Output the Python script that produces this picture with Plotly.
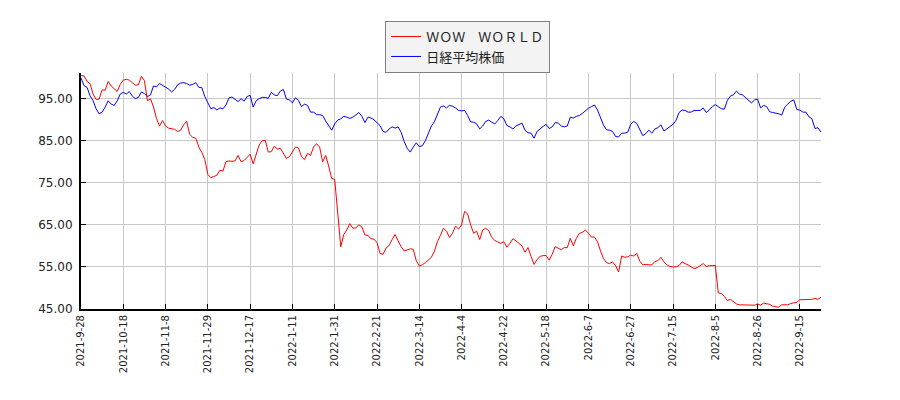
import pandas as pd
import plotly.graph_objects as go

# trading days (TSE) 2021-9-28 .. 2022-9-28
START = "2021-09-28"
END = "2022-09-28"
HOLIDAYS = ["2021-11-03", "2021-11-23", "2021-12-31", "2022-01-03", "2022-01-10",
            "2022-02-11", "2022-02-23", "2022-03-21", "2022-04-29", "2022-05-03",
            "2022-05-04", "2022-05-05", "2022-07-18", "2022-08-11", "2022-09-19",
            "2022-09-23"]

TICK_LABELS = ["2021-9-28", "2021-10-18", "2021-11-8", "2021-11-29", "2021-12-17",
               "2022-1-11", "2022-1-31", "2022-2-21", "2022-3-14", "2022-4-4",
               "2022-4-22", "2022-5-18", "2022-6-7", "2022-6-27", "2022-7-15",
               "2022-8-5", "2022-8-26", "2022-9-15"]

# ＷＯＷ　ＷＯＲＬＤ (relative, start = 100)
wow = [100.5, 100.4, 99.1, 98.6, 96.1, 94.8, 94.9, 97.1, 97.0, 99.1,
       98.0, 97.3, 96.7, 98.4, 99.4, 99.6, 99.4, 98.8, 98.2, 98.3,
       100.3, 99.3, 94.5, 95.0, 93.0, 90.3, 88.5, 89.8, 88.5, 88.0,
       87.8, 87.7, 87.2, 87.5, 88.8, 89.6, 86.5, 85.8, 85.6, 83.5,
       82.2, 80.5, 77.0, 76.2, 76.5, 76.8, 78.0, 77.8, 80.0, 80.2,
       80.1, 80.2, 81.5, 80.0, 80.3, 81.0, 81.8, 79.5, 82.0, 84.0,
       85.0, 85.1, 82.3, 82.4, 83.7, 83.0, 83.2, 82.1, 80.8, 81.2,
       82.2, 83.5, 83.3, 81.2, 80.5, 82.0, 81.5, 83.5, 84.3, 83.5,
       80.0, 81.5, 79.0, 76.0, 75.8, 68.0, 59.8, 62.7, 63.8, 65.3,
       64.2, 64.3, 65.0, 64.5, 62.6, 62.5, 61.7, 61.6, 60.8, 58.2,
       58.0, 59.5, 60.1, 61.5, 62.7, 61.2, 59.8, 58.8, 59.0, 59.3,
       59.2, 56.5, 55.2, 55.5, 56.0, 56.6, 57.3, 58.7, 61.0, 62.5,
       64.2, 63.5, 62.0, 63.0, 64.7, 64.0, 65.0, 68.2, 67.6, 65.0,
       63.0, 63.5, 61.5, 63.8, 64.2, 63.6, 62.0, 61.3, 60.9, 60.6,
       61.0, 59.7, 60.6, 61.7, 61.2, 60.6, 60.0, 58.5, 59.6, 57.5,
       55.6, 56.8, 57.5, 57.7, 57.7, 56.6, 58.0, 59.8, 59.5, 59.1,
       59.6, 59.6, 61.8, 60.0, 61.8, 63.0, 63.2, 63.8, 63.0, 62.1,
       62.1, 61.0, 58.8, 57.0, 56.0, 55.8, 56.2, 55.3, 53.8, 57.6,
       57.3, 57.4, 57.8, 57.6, 58.2, 56.4, 55.5, 55.6, 55.5, 55.5,
       56.3, 56.5, 57.3, 56.2, 55.5, 55.1, 55.0, 55.0, 55.3, 56.2,
       55.8, 55.5, 55.0, 54.6, 54.8, 55.3, 55.8, 55.1, 55.3, 55.3,
       55.4, 48.8, 48.7, 48.0, 47.0, 47.3, 46.8, 46.2, 46.0, 46.0,
       46.0, 46.0, 45.9, 45.9, 46.2, 45.9, 46.4, 46.2, 46.1, 45.7,
       45.5, 45.4, 46.0, 46.0, 46.0, 46.3, 46.4, 46.6, 47.2, 47.2,
       47.2, 47.2, 47.3, 47.5, 47.3, 47.8]

# 日経平均株価 (relative, start = 100)
nikkei = [99.9, 98.1, 97.7, 95.7, 94.5, 92.6, 91.4, 91.8, 93.0, 94.5,
          93.7, 93.4, 94.5, 96.1, 96.5, 96.1, 96.7, 95.6, 95.0, 95.3,
          96.6, 96.2, 95.5, 95.9, 98.0, 97.8, 98.6, 98.2, 97.7, 97.3,
          96.6, 97.2, 98.3, 98.7, 98.8, 98.6, 98.2, 98.4, 98.8, 97.7,
          97.6, 95.5, 94.0, 92.6, 92.9, 92.3, 92.8, 92.6, 93.5, 95.2,
          95.4, 94.9, 94.3, 95.0, 94.4, 95.5, 95.8, 93.0, 94.5, 95.0,
          95.3, 95.3, 95.1, 96.5, 95.9, 95.7, 96.8, 97.2, 94.9, 94.7,
          94.0, 95.2, 94.6, 93.1, 93.7, 93.4, 91.8, 91.8, 91.2, 91.2,
          91.0, 89.7, 88.5, 87.5, 89.0, 89.9, 90.2, 90.8, 90.6, 90.3,
          90.6, 91.2, 91.7, 90.8, 89.3, 90.6, 90.4, 90.0, 89.4, 88.6,
          87.2, 87.0, 87.8, 88.3, 88.0, 88.3, 87.0, 84.8, 83.2, 82.3,
          83.5, 84.5, 83.6, 83.8, 85.0, 86.6, 88.5, 89.5, 91.5, 93.0,
          93.3, 92.8, 93.4, 93.2, 92.8, 92.2, 92.1, 92.2, 91.0, 89.5,
          89.4, 89.0, 87.8, 88.5, 89.6, 89.9, 89.4, 89.0, 89.8, 90.8,
          90.2, 88.6, 88.3, 87.8, 88.5, 88.9, 89.2, 87.5, 86.9, 86.8,
          85.6, 87.2, 87.9, 88.4, 88.9, 87.9, 88.3, 89.3, 89.2, 88.5,
          88.3, 88.5, 90.6, 90.4, 90.8, 91.0, 91.5, 92.2, 92.7, 93.1,
          93.5, 92.3, 90.5, 88.7, 87.6, 87.5, 87.2, 86.0, 85.9, 86.8,
          86.8, 87.0, 88.9, 89.6, 89.1, 87.7, 86.2, 86.7, 87.5, 86.8,
          87.8, 88.1, 88.8, 87.3, 87.8, 88.3, 88.9, 89.8, 91.7, 92.3,
          92.2, 91.8, 91.8, 92.2, 92.2, 92.2, 92.8, 91.7, 92.3, 93.1,
          93.6, 93.1, 92.6, 92.5, 94.6, 95.6, 95.9, 96.8, 96.1, 95.9,
          95.3, 94.5, 94.0, 94.7, 94.9, 92.8, 93.4, 93.1, 91.9, 91.7,
          91.6, 91.4, 91.1, 93.0, 93.7, 94.4, 94.7, 92.4, 92.3, 91.8,
          91.8, 90.7, 90.2, 87.9, 88.1, 87.0]

days = pd.bdate_range(START, END, freq="C", holidays=HOLIDAYS)
dates = [f"{d.year}-{d.month}-{d.day}" for d in days]
if len(dates) != len(wow) or dates[::14] != TICK_LABELS:
    raise ValueError("date list does not match data")

fig = go.Figure()
fig.add_trace(go.Scatter(x=dates, y=wow, mode="lines", name="ＷＯＷ　ＷＯＲＬＤ",
                         line=dict(color="#ff0000", width=1)))
fig.add_trace(go.Scatter(x=dates, y=nikkei, mode="lines", name="日経平均株価",
                         line=dict(color="#0000ff", width=1)))

fig.update_xaxes(type="category", range=[0, len(dates) - 1], automargin=False,
                 tickmode="array", tickvals=TICK_LABELS, ticktext=TICK_LABELS,
                 tickangle=-90, showgrid=True, gridcolor="#c8c8c8", gridwidth=1,
                 showline=True, linecolor="black", linewidth=2,
                 ticks="inside", ticklen=5, tickcolor="black",
                 tickfont=dict(size=10, color="#222"), zeroline=False)
fig.update_yaxes(range=[45, 101.1], automargin=False, tickmode="array",
                 tickvals=[45, 55, 65, 75, 85, 95], tickformat=".2f",
                 showgrid=True, gridcolor="#c8c8c8", gridwidth=1,
                 showline=True, linecolor="black", linewidth=2,
                 ticks="inside", ticklen=5, tickcolor="black",
                 ticklabelstandoff=4,
                 tickfont=dict(size=12, color="#222"), zeroline=False)

# the page body adds 8px around the figure, so margins are 8px smaller here
fig.update_layout(
    width=900, height=400,
    margin=dict(l=73, r=87, t=62, b=99),
    paper_bgcolor="white", plot_bgcolor="white",
    font=dict(family="DejaVu Sans, Noto Sans CJK JP", color="#222"),
    showlegend=True,
    legend=dict(x=0.411, y=1.222, xanchor="left", yanchor="top",
                bgcolor="#f3f3f3", bordercolor="#808080", borderwidth=1,
                font=dict(size=13, color="#222"), itemwidth=30,
                tracegroupgap=0),
)

fig.write_html("out.html")
